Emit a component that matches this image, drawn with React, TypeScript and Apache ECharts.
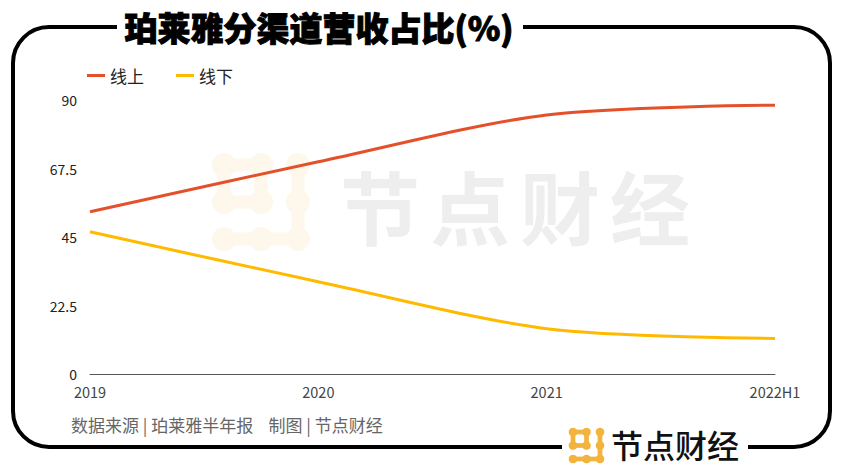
import React, { useEffect, useRef } from "react";
import * as echarts from "echarts";

const categories = ["2019", "2020", "2021", "2022H1"];
const online = [53.3, 69.7, 85.1, 88.3];
const offline = [46.7, 30.3, 14.9, 11.7];
const seriesNames = ["线上", "线下"];
const yTicks = { min: 0, max: 90, interval: 22.5 };
const titleText = "珀莱雅分渠道营收占比(%)";
const sourceText = "数据来源 | 珀莱雅半年报    制图 | 节点财经";
const brandText = "节点财经";

const FONT = "'Noto Sans CJK SC', 'Noto Sans', sans-serif";

function logo(x: number, y: number, s: number, r: number, color: string, z: number) {
  const dots: [number, number][] = [
    [0, 0], [1, 0], [2, 0],
    [0, 1], [1, 1], [2, 1],
    [0, 2], [1, 2], [2, 2],
  ];
  const links: [number, number, number, number][] = [
    [0, 0, 1, 0], [0, 0, 0, 1], [1, 0, 1, 1], [0, 1, 1, 1],
    [2, 0, 2, 1], [2, 1, 2, 2],
    [0, 2, 1, 2], [1, 2, 2, 2],
  ];
  const children: any[] = [];
  dots.forEach(([a, b]) =>
    children.push({ type: "circle", shape: { cx: a * s, cy: b * s, r }, style: { fill: color }, z })
  );
  links.forEach(([a, b, c, d]) =>
    children.push({
      type: "line",
      shape: { x1: a * s, y1: b * s, x2: c * s, y2: d * s },
      style: { stroke: color, lineWidth: r * 1.1 },
      z,
    })
  );
  return { type: "group", x, y, children, silent: true };
}

export default function App() {
  const ref = useRef<HTMLDivElement>(null);
  useEffect(() => {
    document.body.style.margin = "0";
    const chart = echarts.init(ref.current!, null, { renderer: "svg" });
    const wmChars = brandText.split("").map((ch, i) => ({
      type: "text",
      x: 380 + i * 90,
      y: 204,
      style: {
        text: ch,
        fontSize: 80,
        fontWeight: "bold",
        fontFamily: FONT,
        fill: "#EEEEEE",
        align: "center",
        verticalAlign: "middle",
      },
      z: 0,
      silent: true,
    }));
    chart.setOption({
      animation: false,
      backgroundColor: "#ffffff",
      textStyle: { fontFamily: FONT },
      color: ["#E4502A", "#FFBA00"],
      legend: {
        left: 82,
        top: 62,
        icon: "rect",
        itemWidth: 18,
        itemHeight: 3,
        itemGap: 32,
        textStyle: { fontSize: 17, color: "#222", fontFamily: FONT },
        data: seriesNames,
      },
      grid: { left: 90, right: 67, top: 100, bottom: 96, containLabel: false },
      xAxis: {
        type: "category",
        data: categories,
        boundaryGap: false,
        axisLine: { lineStyle: { color: "#555", width: 1 } },
        axisTick: { show: false },
        axisLabel: { color: "#444", fontSize: 14.5, margin: 10, fontFamily: FONT },
      },
      yAxis: {
        type: "value",
        min: yTicks.min,
        max: yTicks.max,
        interval: yTicks.interval,
        axisLine: { show: false },
        axisTick: { show: false },
        splitLine: { show: false },
        axisLabel: { color: "#222", fontSize: 14, margin: 13, fontFamily: FONT },
      },
      series: [
        {
          name: seriesNames[0],
          type: "line",
          data: online,
          smooth: 0.3,
          symbol: "none",
          lineStyle: { width: 3 },
          z: 5,
        },
        {
          name: seriesNames[1],
          type: "line",
          data: offline,
          smooth: 0.3,
          symbol: "none",
          lineStyle: { width: 3 },
          z: 5,
        },
      ],
      graphic: [
        {
          type: "rect",
          shape: { x: 13, y: 27, width: 817, height: 420, r: 36 },
          style: { fill: "none", stroke: "#000", lineWidth: 4 },
          z: 1,
          silent: true,
        },
        { type: "rect", shape: { x: 117, y: 18, width: 406, height: 18 }, style: { fill: "#fff" }, z: 2, silent: true },
        { type: "rect", shape: { x: 562, y: 438, width: 186, height: 18 }, style: { fill: "#fff" }, z: 2, silent: true },
        {
          type: "text",
          x: 319,
          y: 27,
          style: {
            text: titleText,
            fontSize: 33,
            fontWeight: 900,
            fontFamily: FONT,
            fill: "#000",
            stroke: "#000",
            lineWidth: 1,
            align: "center",
            verticalAlign: "middle",
          },
          z: 3,
          silent: true,
        },
        {
          type: "text",
          x: 71,
          y: 424,
          style: {
            text: sourceText,
            fontSize: 17,
            fontFamily: FONT,
            fill: "#666",
            align: "left",
            verticalAlign: "middle",
          },
          z: 3,
          silent: true,
        },
        ...wmChars,
        logo(224, 165, 37, 12, "#FDF7EC", 0),
        logo(573, 432, 13.5, 4.3, "#F3B43E", 3),
        {
          type: "text",
          x: 675,
          y: 444,
          style: {
            text: brandText,
            fontSize: 32,
            fontWeight: 500,
            fontFamily: FONT,
            fill: "#111",
            align: "center",
            verticalAlign: "middle",
          },
          z: 3,
          silent: true,
        },
      ],
    });
    return () => chart.dispose();
  }, []);
  return <div ref={ref} style={{ width: 842, height: 470 }} />;
}
